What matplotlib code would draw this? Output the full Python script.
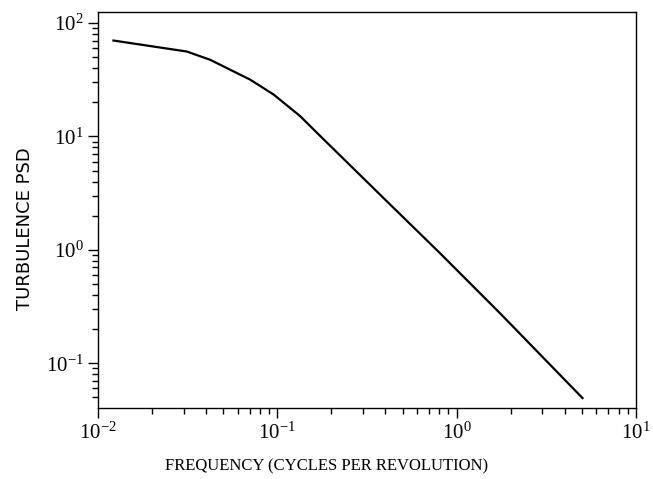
import numpy as np
import matplotlib
matplotlib.use('Agg')
import matplotlib.pyplot as plt
from matplotlib.ticker import LogLocator, NullFormatter

plt.rcParams['font.family'] = 'Liberation Serif'
plt.rcParams['mathtext.fontset'] = 'custom'
plt.rcParams['mathtext.rm'] = 'Liberation Serif'

# Values (frequency in cycles/rev, PSD)
freq = [0.0122, 0.0313, 0.0423, 0.0707, 0.0953, 0.134, 0.170, 0.391, 0.815, 1.76, 5.03]
psd = [70.0, 56.0, 47.3, 31.6, 23.4, 15.1, 10.4, 2.86, 0.92, 0.272, 0.0493]

fig = plt.figure(figsize=(6.53, 4.79), dpi=100)
ax = fig.add_axes([0.150, 0.148, 0.824, 0.827])

ax.plot(freq, psd, color='black', linewidth=1.6)

ax.set_xscale('log')
ax.set_yscale('log')
ax.set_xlim(1e-2, 1e1)
ax.set_ylim(0.0402, 125)

ax.xaxis.set_major_locator(LogLocator(base=10))
ax.xaxis.set_minor_locator(LogLocator(base=10, subs=np.arange(2, 10)))
ax.yaxis.set_major_locator(LogLocator(base=10))
ax.yaxis.set_minor_locator(LogLocator(base=10, subs=np.arange(2, 10)))
ax.xaxis.set_minor_formatter(NullFormatter())
ax.yaxis.set_minor_formatter(NullFormatter())

ax.tick_params(which='both', direction='out', top=False, right=False,
               width=1.0, labelsize=15)
ax.tick_params(which='major', length=7)
ax.tick_params(which='minor', length=4.5)

for s in ax.spines.values():
    s.set_linewidth(1.0)

# axis labels (x label serif, y label sans, both a bit off-centre like the original)
ax.set_xlabel('FREQUENCY (CYCLES PER REVOLUTION)', fontsize=12, va='center')
ax.xaxis.set_label_coords(0.424, -0.146)
ax.set_ylabel('TURBULENCE PSD', fontsize=13, family='DejaVu Sans', va='center')
ax.yaxis.set_label_coords(-0.136, 0.452)

plt.savefig('out.png', dpi=100)
